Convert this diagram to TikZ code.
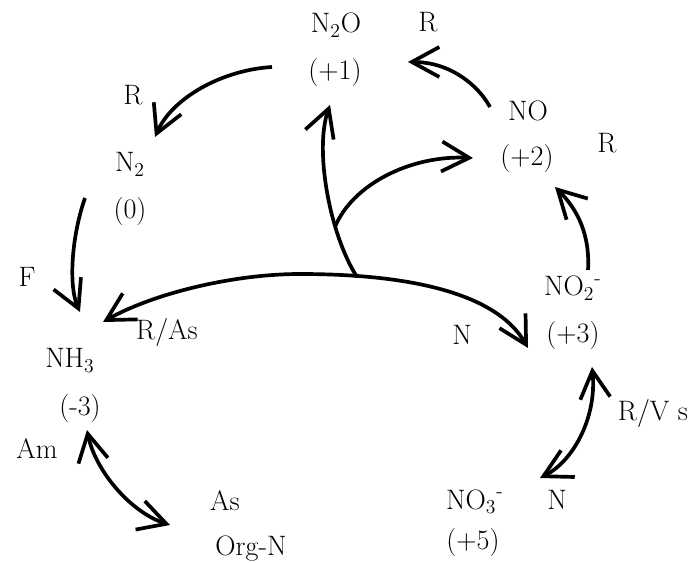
\documentclass[tikz,border=0pt]{standalone}
\usepackage{fontspec}
\usetikzlibrary{arrows.meta}
\tikzset{
	lbl/.style = {anchor = base, inner sep = 0pt, font = \fontsize{16}{19}\selectfont},
	barb/.tip = {Straight Barb[length = 5.5mm, width = 6mm]},
	flow/.style = {line width = 2.1pt, -barb},
	twoway/.style = {line width = 2.1pt, barb-barb}
}
\begin{document}
\begin{tikzpicture}[x = 0.02cm, y = -0.02cm]
	%	frame
	\useasboundingbox (0, 0) rectangle (689, 563);
	
	%	species and oxidation states
	\node[lbl] (n2o) at (336, 33) {N\textsubscript{2}O};
	\node[lbl] (n2oox) at (335, 80) {(+1)};
	\node[lbl] (no) at (528, 121) {NO};
	\node[lbl] (noox) at (527, 166) {(+2)};
	\node[lbl] (n2) at (130, 172) {N\textsubscript{2}};
	\node[lbl] (n2ox) at (130, 219) {(0)};
	\node[lbl] (nh3) at (70, 368) {NH\textsubscript{3}};
	\node[lbl] (nh3ox) at (80, 416) {(-3)};
	\node[lbl] (no2) at (573, 296) {NO\textsubscript{2}\textsuperscript{-}};
	\node[lbl] (no2ox) at (573, 343) {(+3)};
	\node[lbl] (no3) at (475, 509) {NO\textsubscript{3}\textsuperscript{-}};
	\node[lbl] (no3ox) at (473, 549) {(+5)};
	\node[lbl] (orgas) at (225, 510) {As};
	\node[lbl] (org) at (251, 555) {Org-N};
	
	%	process letters
	\node[lbl] (rtop) at (428, 32) {R};
	\node[lbl] (rleft) at (133, 105) {R};
	\node[lbl] (rright) at (607, 153) {R};
	\node[lbl] (fix) at (27, 287) {F};
	\node[lbl] (ras) at (167, 340) {R/As};
	\node[lbl] (nit) at (462, 345) {N};
	\node[lbl] (rvs) at (653, 420) {R/V s};
	\node[lbl] (nit2) at (557, 509) {N};
	\node[lbl] (amm) at (37, 458) {Am};
	
	%	arrow ends
	\coordinate (n2o-r) at (272, 67);
	\coordinate (n2-t) at (155, 137);
	\coordinate (no-l) at (490, 107);
	\coordinate (n2o-t) at (408, 62);
	\coordinate (no2-t) at (588, 270);
	\coordinate (no-b) at (555, 187);
	\coordinate (n2-b) at (85, 198);
	\coordinate (nh3-t) at (80, 312);
	\coordinate (nh3-r) at (103, 322);
	\coordinate (peak) at (300, 274);
	\coordinate (no2-l) at (528, 348);
	\coordinate (fork) at (357, 277);
	\coordinate (n2o-b) at (330, 105);
	\coordinate (fork2) at (335, 227);
	\coordinate (no-w) at (473, 158);
	\coordinate (no2-b) at (592, 367);
	\coordinate (no3-t) at (540, 478);
	\coordinate (nh3-b) at (87, 430);
	\coordinate (org-t) at (170, 525);
	
	%	arrows
	\draw[flow] (n2o-r) .. controls (222, 70) and (172, 98) .. (n2-t);
	\draw[flow] (no-l) .. controls (478, 85) and (450, 62) .. (n2o-t);
	\draw[flow] (no2-t) .. controls (590, 235) and (578, 210) .. (no-b);
	\draw[flow] (n2-b) .. controls (72, 235) and (68, 285) .. (nh3-t);
	\draw[twoway] (nh3-r) .. controls (150, 295) and (230, 274) .. (peak)
		.. controls (400, 274) and (495, 290) .. (no2-l);
	\draw[flow] (fork) .. controls (330, 235) and (314, 150) .. (n2o-b);
	\draw[flow] (fork2) .. controls (352, 185) and (410, 155) .. (no-w);
	\draw[twoway] (no2-b) .. controls (597, 415) and (575, 460) .. (no3-t);
	\draw[twoway] (nh3-b) .. controls (95, 470) and (130, 512) .. (org-t);
\end{tikzpicture}
\end{document}
